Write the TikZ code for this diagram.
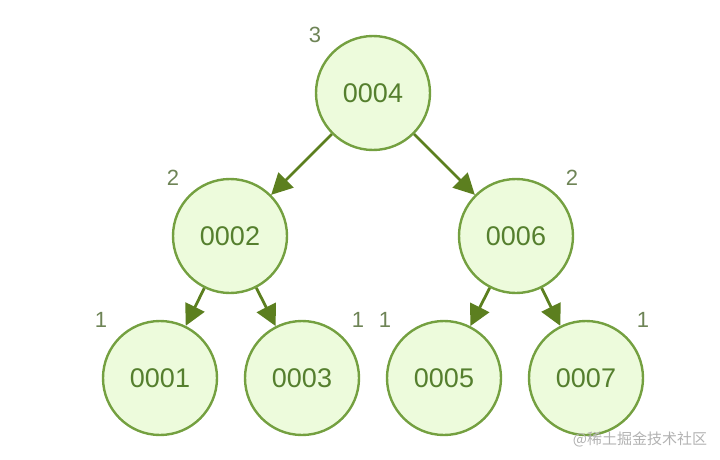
\documentclass[tikz,border=0pt]{standalone}
\usepackage{fontspec}
\setmainfont{Liberation Sans}
\newfontfamily\cjk{Noto Sans CJK SC}
\usetikzlibrary{arrows.meta}
\definecolor{leaffill}{HTML}{EDFBDC}
\definecolor{leafdraw}{HTML}{74A040}
\definecolor{leaftext}{HTML}{557F2E}
\definecolor{edgecol}{HTML}{5C7F1F}
\definecolor{hcol}{HTML}{6E8456}

\begin{document}
\begin{tikzpicture}[x=1pt,y=-1pt,>={Triangle[length=21pt,width=21pt]},
  keynode/.style={circle,draw=leafdraw,line width=2.4pt,fill=leaffill,minimum size=114pt,inner sep=0pt,
    text=leaftext,font=\fontsize{27}{30}\selectfont},
  height/.style={text=hcol,font=\fontsize{22}{26}\selectfont},
  link/.style={->,draw=edgecol,line width=2.8pt}]
  \useasboundingbox (0,0) rectangle (720,460);
  % tree nodes
  \node (n4) [keynode] at (373,93) {0004};
  \node (n2) [keynode] at (230,236) {0002};
  \node (n6) [keynode] at (516,236) {0006};
  \node (n1) [keynode] at (160,378) {0001};
  \node (n3) [keynode] at (302,378) {0003};
  \node (n5) [keynode] at (444,378) {0005};
  \node (n7) [keynode] at (586,378) {0007};
  % heights
  \node (h4) [height] at (315,35) {3};
  \node (h2) [height] at (173,178) {2};
  \node (h6) [height] at (572,178) {2};
  \node (h1) [height] at (101,320) {1};
  \node (h3) [height] at (358,320) {1};
  \node (h5) [height] at (385,320) {1};
  \node (h7) [height] at (643,320) {1};
  \draw[link] (n4) -- (n2);
  \draw[link] (n4) -- (n6);
  \draw[link] (n2) -- (n1);
  \draw[link] (n2) -- (n3);
  \draw[link] (n6) -- (n5);
  \draw[link] (n6) -- (n7);
  \node (wm) [text=black!30,font=\cjk\fontsize{15}{18}\selectfont] at (640,439) {@稀土掘金技术社区};
\end{tikzpicture}
\end{document}
